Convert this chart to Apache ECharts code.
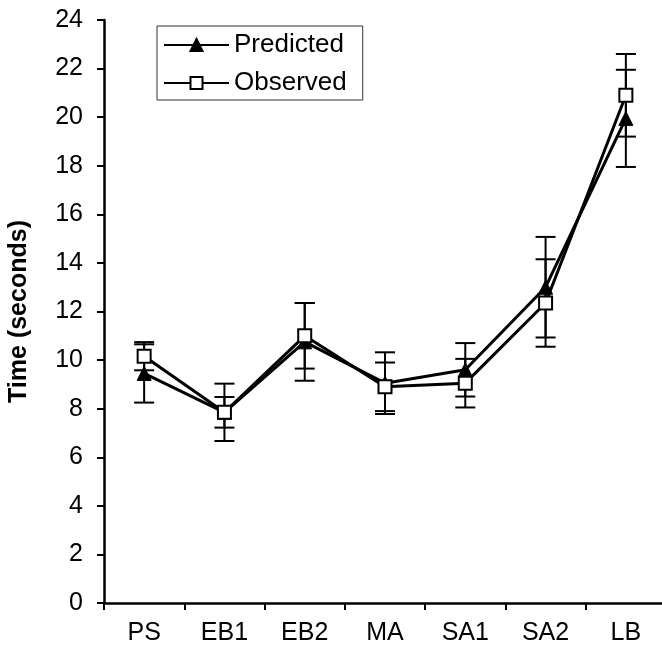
<!DOCTYPE html>
<html>
<head>
<meta charset="utf-8">
<script src="https://cdn.jsdelivr.net/npm/echarts@6/dist/echarts.min.js"></script>
<style>
  html, body { margin: 0; padding: 0; background: #fff; }
  #chart { width: 662px; height: 653px; }
</style>
</head>
<body>
<div id="chart"></div>
<script>
// Task categories along the x axis
const categories = ['PS', 'EB1', 'EB2', 'MA', 'SA1', 'SA2', 'LB'];
// Mean completion time (s) and error half-widths
const predicted    = [9.45, 7.85, 10.75, 9.05, 9.6, 13.0, 19.95];
const predictedErr = [1.2, 1.18, 1.6, 1.27, 1.1, 2.07, 2.0];
const observed     = [10.16, 7.85, 11.0, 8.9, 9.05, 12.35, 20.9];
const observedErr  = [0.58, 0.63, 1.35, 1.0, 1.0, 1.8, 1.7];
// Y axis ticks
const yMin = 0, yMax = 24, yStep = 2;

const FONT = 'Liberation Sans, Arial, sans-serif';

function errorBarSeries(name, values, errs) {
  return {
    name: name + ' error',
    type: 'custom',
    silent: true,
    z: 1,
    data: values.map((v, i) => [i, v - errs[i], v + errs[i]]),
    renderItem: function (params, api) {
      const lo = api.coord([api.value(0), api.value(1)]);
      const hi = api.coord([api.value(0), api.value(2)]);
      const half = 10;
      const style = { stroke: '#000', lineWidth: 2 };
      return {
        type: 'group',
        children: [
          { type: 'line', shape: { x1: lo[0], y1: lo[1], x2: hi[0], y2: hi[1] }, style: style },
          { type: 'line', shape: { x1: hi[0] - half, y1: hi[1], x2: hi[0] + half, y2: hi[1] }, style: style },
          { type: 'line', shape: { x1: lo[0] - half, y1: lo[1], x2: lo[0] + half, y2: lo[1] }, style: style }
        ]
      };
    }
  };
}

const chart = echarts.init(document.getElementById('chart'), null, { renderer: 'canvas' });
chart.setOption({
  animation: false,
  backgroundColor: '#fff',
  grid: { left: 104, top: 20, right: -4, bottom: 50, containLabel: false, outerBoundsMode: 'none' },
  legend: {
    orient: 'vertical',
    left: 157,
    top: 26,
    padding: [6, 16, 4, 6],
    itemGap: 12,
    itemWidth: 65,
    itemHeight: 15,
    borderColor: '#333',
    borderWidth: 1,
    textStyle: { fontFamily: FONT, fontSize: 26, color: '#000' },
    data: ['Predicted', 'Observed']
  },
  xAxis: {
    type: 'category',
    data: categories,
    boundaryGap: true,
    axisLine: { lineStyle: { color: '#000', width: 2.5 } },
    axisTick: { show: true, length: 7, lineStyle: { color: '#000', width: 2 } },
    axisLabel: { fontFamily: FONT, fontSize: 25, color: '#000', margin: 18 }
  },
  yAxis: {
    type: 'value',
    min: yMin,
    max: yMax,
    interval: yStep,
    name: 'Time (seconds)',
    nameLocation: 'middle',
    nameRotate: 90,
    nameGap: 72,
    nameTextStyle: { fontFamily: FONT, fontSize: 25, fontWeight: 'bold', color: '#000' },
    splitLine: { show: false },
    axisLine: { show: true, lineStyle: { color: '#000', width: 2.5 } },
    axisTick: { show: true, length: 7, lineStyle: { color: '#000', width: 2 } },
    axisLabel: { fontFamily: FONT, fontSize: 25, color: '#000', margin: 21 }
  },
  series: [
    errorBarSeries('Predicted', predicted, predictedErr),
    errorBarSeries('Observed', observed, observedErr),
    {
      name: 'Predicted',
      type: 'line',
      data: predicted,
      z: 3,
      symbol: 'triangle',
      symbolSize: 14,
      lineStyle: { color: '#000', width: 3 },
      itemStyle: { color: '#000', borderColor: '#000', borderWidth: 1 }
    },
    {
      name: 'Observed',
      type: 'line',
      data: observed,
      z: 4,
      symbol: 'rect',
      symbolSize: 13,
      lineStyle: { color: '#000', width: 3 },
      itemStyle: { color: '#fff', borderColor: '#000', borderWidth: 2 }
    }
  ]
});
</script>
</body>
</html>
